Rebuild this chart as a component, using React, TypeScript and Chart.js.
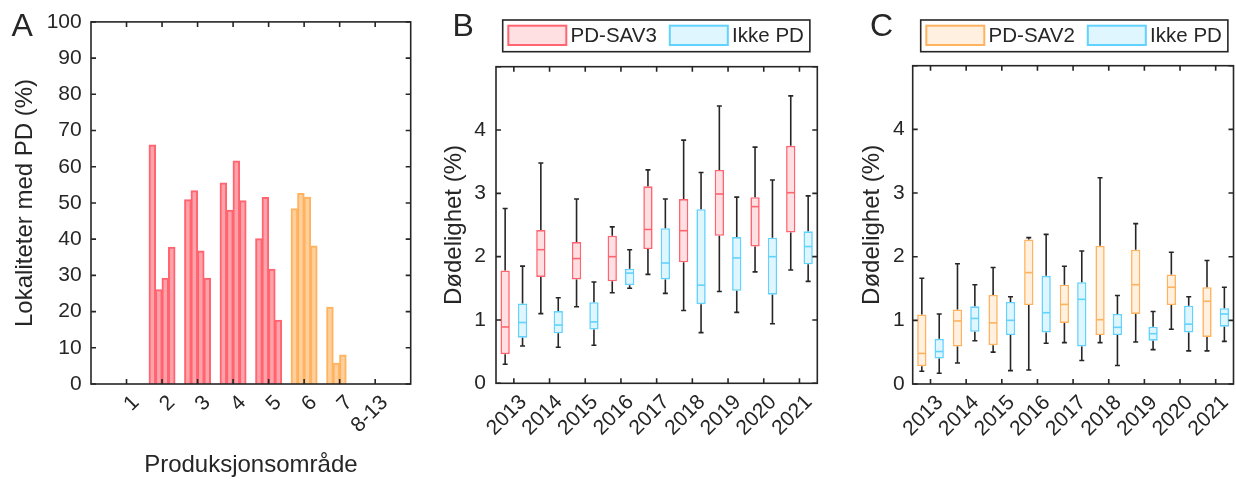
import React, { useEffect, useRef } from 'react';
import { Chart, registerables } from 'chart.js';

Chart.register(...registerables);

const FONT = '"Liberation Sans", Arial, Helvetica, sans-serif';
const INK = '#262626';

// ---------- Panel A: share of sites with PD per production area ----------
const areaLabels = ['', '1', '2', '3', '4', '5', '6', '7', '8-13', ''];
const areaIsSav2 = [true, true, false, false, false, false, true, true, true, true];
const barSeries1 = [null, 0, 66.0, 50.9, 55.5, 40.1, 48.4, 21.2, 0, 0];
const barSeries2 = [null, 0, 26.0, 53.4, 48.0, 51.5, 52.6, 5.7, 0, 0];
const barSeries3 = [null, 0, 29.2, 36.7, 61.6, 31.7, 51.6, 8.0, 0, 0];
const barSeries4 = [null, 0, 37.8, 29.2, 50.6, 17.6, 38.1, 0, 0, 0];

// ---------- Panels B & C: mortality box plots ----------
const years = ['2013', '2014', '2015', '2016', '2017', '2018', '2019', '2020', '2021'];

const sav3Min = [0.30, 1.10, 1.21, 1.43, 1.72, 1.15, 1.45, 1.76, 1.79];
const sav3Q1 = [0.46, 1.68, 1.64, 1.61, 2.12, 1.91, 2.33, 2.16, 2.38];
const sav3Med = [0.89, 2.11, 1.97, 2.00, 2.43, 2.41, 2.99, 2.79, 3.01];
const sav3Q3 = [1.78, 2.42, 2.23, 2.33, 3.11, 2.91, 3.37, 2.94, 3.75];
const sav3Max = [2.76, 3.48, 2.91, 2.47, 3.37, 3.84, 4.38, 3.73, 4.54];

const ikkeBMin = [0.59, 0.57, 0.60, 1.50, 1.42, 0.80, 1.12, 0.94, 1.61];
const ikkeBQ1 = [0.72, 0.79, 0.85, 1.55, 1.64, 1.25, 1.46, 1.40, 1.88];
const ikkeBMed = [0.96, 0.92, 0.97, 1.74, 1.90, 1.55, 1.98, 2.00, 2.16];
const ikkeBQ3 = [1.26, 1.14, 1.28, 1.81, 2.45, 2.75, 2.31, 2.30, 2.40];
const ikkeBMax = [1.85, 1.35, 1.60, 2.11, 2.91, 3.33, 2.94, 3.21, 2.96];

const sav2Min = [0.20, 0.33, 0.50, 0.22, 0.65, 0.65, 0.66, 0.86, 0.52];
const sav2Q1 = [0.28, 0.59, 0.61, 1.24, 0.96, 0.77, 1.10, 1.24, 0.74];
const sav2Med = [0.48, 0.99, 0.96, 1.75, 1.25, 1.01, 1.56, 1.52, 1.30];
const sav2Q3 = [1.09, 1.17, 1.40, 2.27, 1.56, 2.17, 2.11, 1.72, 1.52];
const sav2Max = [1.66, 1.89, 1.83, 2.30, 1.85, 3.24, 2.52, 2.07, 1.94];

const ikkeCMin = [0.17, 0.68, 0.21, 0.64, 0.37, 0.29, 0.54, 0.52, 0.67];
const ikkeCQ1 = [0.40, 0.82, 0.77, 0.81, 0.59, 0.77, 0.68, 0.81, 0.90];
const ikkeCMed = [0.51, 1.03, 1.00, 1.12, 1.33, 0.89, 0.79, 0.94, 1.10];
const ikkeCQ3 = [0.71, 1.22, 1.29, 1.70, 1.60, 1.10, 0.90, 1.23, 1.19];
const ikkeCMax = [1.10, 1.56, 1.37, 2.35, 2.09, 1.39, 1.14, 1.37, 1.52];

// ---------- colours ----------
const RED_EDGE = '#FF6470';
const RED_BAR = '#FFA2A9';
const RED_BOX = '#FFE0E2';
const ORANGE_EDGE = '#FFB35E';
const ORANGE_BAR = '#FFD09E';
const ORANGE_BOX = '#FFF0E0';
const BLUE_EDGE = '#62D2FF';
const BLUE_BOX = '#E0F6FF';

const TICK = 5;

function framePlugin(letter: string, letterX: number) {
  return {
    id: 'frame',
    afterDraw(chart: any) {
      const ctx = chart.ctx;
      const { left, right, top, bottom } = chart.chartArea;
      const xs = chart.scales.x;
      const ys = chart.scales.y;
      const labels: string[] = chart.data.labels;
      ctx.save();
      ctx.strokeStyle = INK;
      ctx.lineWidth = 1.6;
      ctx.strokeRect(left, top, right - left, bottom - top);
      ctx.beginPath();
      labels.forEach((lab, i) => {
        if (!lab) return;
        const px = xs.getPixelForValue(i);
        ctx.moveTo(px, bottom);
        ctx.lineTo(px, bottom - TICK);
        ctx.moveTo(px, top);
        ctx.lineTo(px, top + TICK);
      });
      ys.ticks.forEach((t: any) => {
        const py = ys.getPixelForValue(t.value);
        ctx.moveTo(left, py);
        ctx.lineTo(left + TICK, py);
        ctx.moveTo(right, py);
        ctx.lineTo(right - TICK, py);
      });
      ctx.stroke();

      ctx.fillStyle = INK;
      ctx.font = `21px ${FONT}`;
      ctx.textAlign = 'right';
      ctx.textBaseline = 'middle';
      labels.forEach((lab, i) => {
        if (!lab) return;
        const px = xs.getPixelForValue(i);
        ctx.save();
        ctx.translate(px + 9.5, bottom + 15.5);
        ctx.rotate(-Math.PI / 4);
        ctx.fillText(lab, 0, 0);
        ctx.restore();
      });

      ctx.font = `32px ${FONT}`;
      ctx.textAlign = 'left';
      ctx.textBaseline = 'alphabetic';
      ctx.fillText(letter, letterX, 36);
      ctx.restore();
    },
  };
}

type Series = {
  label: string;
  edge: string;
  fill: string;
  min: number[];
  q1: number[];
  med: number[];
  q3: number[];
  max: number[];
};

function legendPlugin(x0: number, items: Series[]) {
  return {
    id: 'boxLegend',
    afterDraw(chart: any) {
      const ctx = chart.ctx;
      ctx.save();
      ctx.font = `20.5px ${FONT}`;
      ctx.textBaseline = 'middle';
      ctx.textAlign = 'left';
      let x = x0 + 5.6;
      let end = x;
      items.forEach((it) => {
        ctx.fillStyle = it.fill;
        ctx.fillRect(x, 25.7, 58, 19.3);
        ctx.strokeStyle = it.edge;
        ctx.lineWidth = 2;
        ctx.strokeRect(x, 25.7, 58, 19.3);
        const tx = x + 62.3;
        ctx.fillStyle = INK;
        ctx.fillText(it.label, tx, 36);
        const w = ctx.measureText(it.label).width;
        end = tx + w;
        x = end + 13;
      });
      ctx.strokeStyle = INK;
      ctx.lineWidth = 1.6;
      ctx.strokeRect(x0, 20, end + 6 - x0, 31.7);
      ctx.restore();
    },
  };
}

function whiskerPlugin(series: Series[]) {
  return {
    id: 'whiskers',
    afterDatasetsDraw(chart: any) {
      const ctx = chart.ctx;
      const ys = chart.scales.y;
      ctx.save();
      series.forEach((s, d) => {
        const meta = chart.getDatasetMeta(d);
        meta.data.forEach((el: any, i: number) => {
          const { x, width } = el.getProps(['x', 'width'], true);
          const yMin = ys.getPixelForValue(s.min[i]);
          const yMed = ys.getPixelForValue(s.med[i]);
          const yQ1 = ys.getPixelForValue(s.q1[i]);
          const yQ3 = ys.getPixelForValue(s.q3[i]);
          const yMax = ys.getPixelForValue(s.max[i]);
          ctx.strokeStyle = INK;
          ctx.lineWidth = 1.6;
          ctx.beginPath();
          ctx.moveTo(x, yQ3);
          ctx.lineTo(x, yMax);
          ctx.moveTo(x - 2.5, yMax);
          ctx.lineTo(x + 2.5, yMax);
          ctx.moveTo(x, yQ1);
          ctx.lineTo(x, yMin);
          ctx.moveTo(x - 2.5, yMin);
          ctx.lineTo(x + 2.5, yMin);
          ctx.stroke();
          ctx.strokeStyle = s.edge;
          ctx.lineWidth = 1.6;
          ctx.beginPath();
          ctx.moveTo(x - width / 2 + 0.8, yMed);
          ctx.lineTo(x + width / 2 - 0.8, yMed);
          ctx.stroke();
        });
      });
      ctx.restore();
    },
  };
}

function configA(): any {
  const edge = areaIsSav2.map((o) => (o ? ORANGE_EDGE : RED_EDGE));
  const fill = areaIsSav2.map((o) => (o ? ORANGE_BAR : RED_BAR));
  const mk = (data: (number | null)[], label: string) => ({
    label,
    data,
    backgroundColor: fill,
    borderColor: edge,
    borderWidth: 2,
    inflateAmount: 0.5,
    barPercentage: 1,
    categoryPercentage: 0.73,
  });
  return {
    type: 'bar',
    data: {
      labels: areaLabels,
      datasets: [mk(barSeries1, 's1'), mk(barSeries2, 's2'), mk(barSeries3, 's3'), mk(barSeries4, 's4')],
    },
    options: {
      responsive: false,
      animation: false,
      layout: { padding: { top: 19.3, right: 9.3, left: 0, bottom: 0 } },
      plugins: { legend: { display: false }, tooltip: { enabled: false } },
      scales: {
        x: {
          type: 'category',
          offset: false,
          grid: { display: false, drawTicks: false },
          border: { display: false },
          ticks: { display: false, autoSkip: false },
          title: {
            display: true,
            text: 'Produksjonsområde',
            color: INK,
            font: { size: 24, family: FONT },
            padding: { top: 0, bottom: 0.7 },
          },
          afterFit: (s: any) => {
            s.height = 96;
          },
        },
        y: {
          min: 0,
          max: 100,
          grid: { display: false, drawTicks: false },
          border: { display: false },
          ticks: { stepSize: 10, padding: 9.3, color: INK, font: { size: 21, family: FONT } },
          title: {
            display: true,
            text: 'Lokaliteter med PD (%)',
            color: INK,
            font: { size: 24, family: FONT },
            padding: { top: 10.5, bottom: 0 },
          },
          afterFit: (s: any) => {
            s.width = 91;
          },
        },
      },
    },
    plugins: [framePlugin('A', 11.5)],
  };
}

function configBox(
  pd: Series,
  ikke: Series,
  p: { letter: string; letterX: number; yWidth: number; padRight: number; padTop: number; xHeight: number; titlePad: number; tickPad: number; legendX: number }
): any {
  const mk = (s: Series) => ({
    label: s.label,
    data: years.map((_, i) => [s.q1[i], s.q3[i]]),
    backgroundColor: s.fill,
    borderColor: s.edge,
    borderWidth: 1.6,
    borderSkipped: false,
    barPercentage: 0.535,
    categoryPercentage: 0.975,
  });
  return {
    type: 'bar',
    data: { labels: years, datasets: [mk(pd), mk(ikke)] },
    options: {
      responsive: false,
      animation: false,
      layout: { padding: { top: p.padTop, right: p.padRight, left: 0, bottom: 0 } },
      plugins: { legend: { display: false }, tooltip: { enabled: false } },
      scales: {
        x: {
          type: 'category',
          offset: true,
          grid: { display: false, drawTicks: false },
          border: { display: false },
          ticks: { display: false, autoSkip: false },
          afterFit: (s: any) => {
            s.height = p.xHeight;
          },
        },
        y: {
          min: 0,
          max: 5,
          grid: { display: false, drawTicks: false },
          border: { display: false },
          ticks: {
            stepSize: 1,
            padding: p.tickPad,
            color: INK,
            font: { size: 21, family: FONT },
            callback: (v: any) => (v === 5 ? '' : String(v)),
          },
          title: {
            display: true,
            text: 'Dødelighet (%)',
            color: INK,
            font: { size: 24, family: FONT },
            padding: { top: p.titlePad, bottom: 0 },
          },
          afterFit: (s: any) => {
            s.width = p.yWidth;
          },
        },
      },
    },
    plugins: [whiskerPlugin([pd, ikke]), framePlugin(p.letter, p.letterX), legendPlugin(p.legendX, [pd, ikke])],
  };
}

export default function App() {
  const refA = useRef<HTMLCanvasElement>(null);
  const refB = useRef<HTMLCanvasElement>(null);
  const refC = useRef<HTMLCanvasElement>(null);

  useEffect(() => {
    document.body.style.margin = '0';
    Chart.defaults.font.family = FONT;
    Chart.defaults.color = INK;

    const sav3: Series = { label: 'PD-SAV3', edge: RED_EDGE, fill: RED_BOX, min: sav3Min, q1: sav3Q1, med: sav3Med, q3: sav3Q3, max: sav3Max };
    const ikkeB: Series = { label: 'Ikke PD', edge: BLUE_EDGE, fill: BLUE_BOX, min: ikkeBMin, q1: ikkeBQ1, med: ikkeBMed, q3: ikkeBQ3, max: ikkeBMax };
    const sav2: Series = { label: 'PD-SAV2', edge: ORANGE_EDGE, fill: ORANGE_BOX, min: sav2Min, q1: sav2Q1, med: sav2Med, q3: sav2Q3, max: sav2Max };
    const ikkeC: Series = { label: 'Ikke PD', edge: BLUE_EDGE, fill: BLUE_BOX, min: ikkeCMin, q1: ikkeCQ1, med: ikkeCMed, q3: ikkeCQ3, max: ikkeCMax };

    const charts = [
      new Chart(refA.current as HTMLCanvasElement, configA()),
      new Chart(
        refB.current as HTMLCanvasElement,
        configBox(sav3, ikkeB, { letter: 'B', letterX: 32.5, yWidth: 76, padRight: 12.7, padTop: 66.7, xHeight: 96.7, titlePad: 19.6, tickPad: 10, legendX: 82.7 })
      ),
      new Chart(
        refC.current as HTMLCanvasElement,
        configBox(sav2, ikkeC, { letter: 'C', letterX: 40, yWidth: 82.7, padRight: 2.5, padTop: 65.7, xHeight: 96, titlePad: 28, tickPad: 8, legendX: 90.7 })
      ),
    ];
    return () => charts.forEach((c) => c.destroy());
  }, []);

  return (
    <div style={{ position: 'absolute', left: 0, top: 0, width: 1236, height: 480, background: '#fff' }}>
      <canvas ref={refA} width={420} height={480} style={{ position: 'absolute', left: 0, top: 0 }} />
      <canvas ref={refB} width={410} height={480} style={{ position: 'absolute', left: 420, top: 0 }} />
      <canvas ref={refC} width={406} height={480} style={{ position: 'absolute', left: 830, top: 0 }} />
    </div>
  );
}
